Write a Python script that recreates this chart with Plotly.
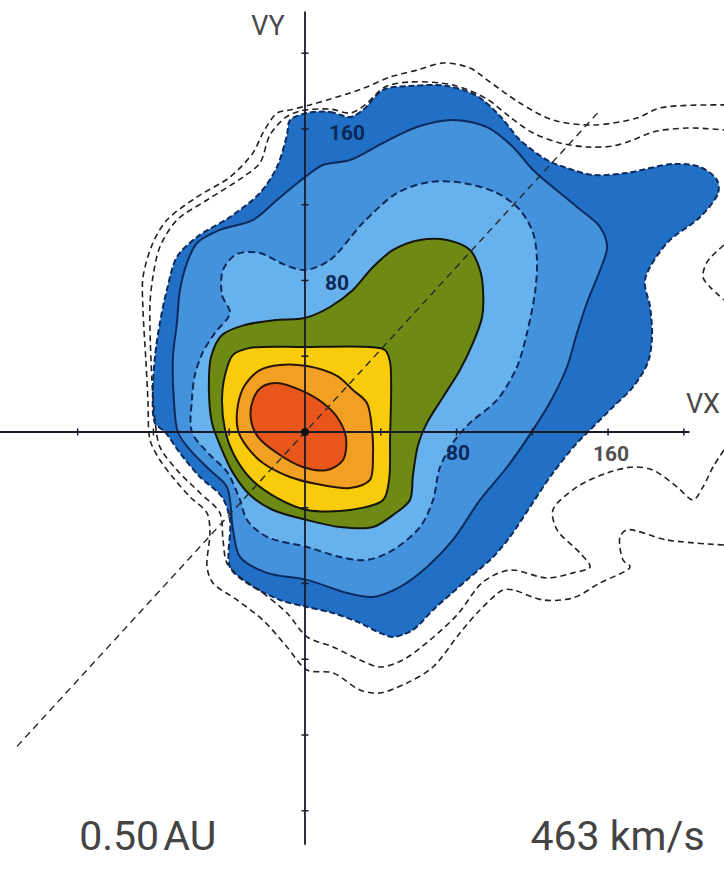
import plotly.graph_objects as go

# ---- velocity-space contour boundaries (km/s) ----
# outer dark-blue level
lev1_vx = [1.1, 13.2, 23.8, 30.6, 41.2, 55.4, 75.0, 90.8, 103.0, 113.5, 127.8, 138.3, 152.1, 170.0, 194.3, 208.6,
           217.5, 218.1, 208.6, 191.1, 179.5, 182.2, 183.2, 181.1, 173.2, 162.6, 150.5, 143.6, 130.9, 118.8, 108.2,
           99.3, 85.5, 67.6, 57.0, 46.5, 39.6, 29.0, 14.8, 1.1, -13.2, -30.6, -39.6, -39.6, -43.8, -55.4, -66.0,
           -73.9, -79.2, -80.3, -79.2, -76.6, -72.9, -67.6, -57.0, -39.6, -23.8, -14.8, -9.5, -7.9]
lev1_vy = [168.4, 169.0, 166.3, 170.0, 180.6, 182.7, 182.7, 177.4, 166.8, 154.2, 143.6, 139.4, 135.7, 136.8, 141.5,
           139.9, 133.1, 126.2, 113.5, 99.8, 80.3, 66.0, 50.2, 37.0, 23.8, 13.2, 1.1, -5.8, -21.6, -39.6, -55.4,
           -66.0, -78.1, -94.0, -104.5, -108.2, -106.1, -100.8, -95.6, -92.4, -88.7, -79.7, -71.3, -46.5, -34.3,
           -23.8, -11.1, 0.0, 4.8, 22.2, 39.6, 57.6, 75.0, 92.4, 103.0, 113.5, 126.2, 139.9, 156.8, 164.7]
# medium-blue level
lev2_vx = [0.0, 9.5, 23.8, 41.2, 59.1, 78.1, 96.1, 109.8, 120.4, 143.6, 155.8, 159.5, 155.8, 149.4, 143.6, 138.3,
           130.9, 120.4, 106.7, 92.4, 78.1, 64.4, 50.2, 35.9, 22.2, 1.1, -20.1, -34.3, -38.0, -41.2, -50.2, -60.7,
           -67.1, -69.2, -69.7, -67.6, -66.0, -62.3, -57.0, -44.9, -27.5, -14.8, -5.3]
lev2_vy = [134.6, 141.0, 143.6, 152.6, 161.0, 164.7, 161.0, 150.5, 138.3, 118.8, 108.2, 97.7, 85.5, 69.7, 52.3,
           34.3, 18.5, 1.1, -18.5, -35.9, -57.0, -71.3, -81.8, -87.1, -85.0, -78.1, -74.4, -66.0, -51.7, -29.0,
           -20.1, -9.5, 0.0, 16.9, 39.6, 57.6, 75.0, 89.2, 99.8, 106.7, 111.9, 122.5, 130.4]
# light-blue level
lev3_vx = [0.0, 13.2, 30.6, 48.6, 66.0, 83.4, 101.4, 113.5, 120.4, 122.5, 121.4, 117.2, 111.9, 101.4, 87.1, 79.2,
           71.3, 67.6, 60.7, 46.5, 32.7, 18.5, 1.1, -20.1, -30.6, -34.3, -41.2, -50.2, -59.7, -59.7, -58.1, -53.9,
           -47.5, -39.6, -43.8, -43.3, -35.9, -23.8, -11.6]
lev3_vy = [85.5, 90.8, 110.4, 126.2, 132.0, 131.5, 126.2, 117.2, 105.1, 90.8, 73.4, 52.3, 34.3, 16.9, 4.8, -4.2,
           -18.5, -35.9, -50.2, -62.3, -67.6, -66.0, -60.7, -55.4, -46.5, -35.9, -21.1, -12.1, 0.0, 16.9, 30.1,
           42.2, 52.3, 62.8, 72.3, 85.5, 94.0, 94.5, 88.7]
# green level
lev4_vx = [0.0, 13.2, 25.3, 35.9, 46.5, 60.7, 75.0, 87.1, 92.4, 94.0, 93.5, 88.7, 81.8, 72.9, 64.4, 59.7, 57.0,
           55.4, 46.5, 35.9, 18.5, 1.1, -16.9, -29.0, -38.0, -44.9, -49.1, -50.7, -49.6, -43.8, -31.7, -15.8]
lev4_vy = [60.2, 66.0, 75.0, 87.1, 96.1, 101.4, 101.4, 96.1, 85.5, 75.0, 60.7, 47.0, 32.7, 18.5, 4.8, -6.9, -22.7,
           -35.9, -43.8, -50.2, -50.2, -46.5, -41.2, -33.3, -21.6, -6.9, 4.8, 22.2, 39.6, 51.2, 56.5, 59.1]
# yellow level
lev5_vx = [0.0, 34.3, 42.2, 44.9, 44.9, 44.4, 41.2, 23.8, 1.1, -14.8, -29.0, -38.0, -42.2, -43.8, -42.2, -38.0, -29.0]
lev5_vy = [44.9, 44.9, 43.3, 37.0, -4.2, -25.3, -35.9, -41.2, -41.2, -34.8, -24.3, -11.1, 1.1, 16.9, 30.1, 40.7, 44.4]
# orange level
lev6_vx = [1.1, 16.9, 25.3, 32.7, 35.4, 35.9, 34.3, 23.8, 6.3, -7.9, -22.2, -30.6, -35.4, -35.4, -31.7, -23.8, -13.2]
lev6_vy = [34.8, 29.6, 22.2, 15.3, 1.1, -12.1, -25.3, -29.6, -27.5, -23.8, -16.4, -7.9, 1.1, 14.3, 24.8, 32.7, 35.4]
# red core
lev7_vx = [-14.8, -2.6, 9.5, 16.9, 21.6, 20.1, 11.6, -1.1, -14.8, -24.8, -28.5, -27.5, -22.7]
lev7_vy = [25.9, 22.2, 15.3, 7.9, -2.6, -14.8, -20.1, -18.5, -11.1, -2.6, 6.3, 16.9, 23.8]

# outer unfilled (dashed) contours
out1_vx = [221.2, 215.4, 210.1, 204.9, 196.4, 183.7, 173.2, 159.5, 143.6, 130.9, 133.1, 145.2, 150.5, 141.5, 127.8,
           108.2, 94.0, 80.3, 66.0, 51.7, 39.6, 29.0, 14.8, 1.1, -9.5, -22.2, -34.3, -41.2, -43.3, -44.9, -55.4,
           -67.6, -76.6, -79.2, -80.8, -81.8, -81.8, -80.3, -76.6, -67.6, -51.7, -32.7, -23.8, -18.5, -10.6, -2.6,
           13.2, 23.8, 31.7, 42.2, 55.4, 78.1, 96.1, 108.2, 120.4, 134.6, 148.9, 162.6, 173.2, 183.7, 201.7, 221.2]
out1_vy = [-9.5, -18.5, -29.0, -35.9, -29.0, -20.1, -18.5, -21.6, -29.0, -41.2, -51.7, -63.9, -71.3, -74.4, -77.1,
           -72.9, -79.2, -96.6, -109.8, -120.4, -124.1, -120.4, -113.5, -108.2, -95.6, -85.0, -76.6, -69.2, -57.0,
           -42.8, -32.2, -20.1, -7.9, 6.3, 27.5, 53.9, 68.1, 81.8, 97.7, 111.9, 122.5, 134.6, 142.0, 156.8, 165.8,
           169.5, 170.5, 168.4, 172.7, 182.2, 184.8, 183.2, 175.8, 166.3, 157.9, 152.6, 150.5, 151.0, 154.2, 158.4,
           160.5, 159.5]
out2_vx = [221.2, 191.1, 170.0, 166.3, 167.9, 171.6, 155.8, 141.5, 125.7, 109.8, 104.5, 92.4, 81.8, 67.6, 53.9,
           39.6, 29.0, 14.8, 1.1, -9.5, -22.2, -35.9, -48.6, -51.7, -50.2, -51.7, -60.7, -68.6, -76.6, -81.8, -82.9,
           -84.0, -85.5, -85.5, -80.3, -72.9, -57.0, -39.6, -27.5, -22.2, -14.8, -7.9, 2.6, 11.6, 23.8, 32.7, 44.9,
           59.1, 72.9, 87.1, 96.1, 113.5, 130.9, 152.1, 175.3, 187.4, 221.2]
out2_vy = [-59.7, -57.0, -51.7, -55.4, -67.6, -71.3, -79.7, -87.6, -88.7, -83.4, -83.4, -94.0, -106.1, -124.1,
           -132.5, -137.8, -136.2, -127.2, -125.7, -113.5, -99.3, -88.7, -79.7, -71.3, -53.3, -42.8, -34.3, -25.3,
           -14.8, -4.2, 16.9, 38.0, 64.4, 81.8, 99.8, 111.9, 124.1, 134.6, 147.3, 157.9, 168.4, 170.0, 172.7, 175.3,
           179.0, 182.2, 187.4, 191.1, 194.8, 192.2, 185.9, 173.7, 164.7, 162.1, 165.8, 171.1, 172.7]
out3_vx = [221.2, 212.3, 210.1, 213.8, 221.2]
out3_vy = [98.7, 89.8, 81.8, 76.6, 69.7]

# magnetic-field direction (dashed diagonal)
bfield_vx = [-152.0, 155.0]
bfield_vy = [-166.0, 169.0]

# axes, ticks and labels
vx_axis = [-161.0, 203.0]
vy_axis = [-218.0, 222.0]
vx_ticks = [-120, -80, -40, 40, 80, 120, 160, 200]
vy_ticks = [-200, -160, -120, -80, -40, 40, 80, 120, 160, 200]
tick_labels = ["160", "80", "80", "160"]
tick_label_vx = [22.2, 16.9, 80.8, 161.6]
tick_label_vy = [156.8, 77.6, -12.1, -12.7]
tick_label_colors = ["#0c2858", "#0c2858", "#0c2858", "#505050"]
info_texts = ["0.50\u200aAU", "463 km/s"]
info_vx = [-83.0, 165.0]
info_vy = [-215.5, -215.5]

fills = ["#2170c6", "#4592dc", "#67b1ec", "#6d8b14", "#f8cc0a", "#f2a024", "#e8561c"]
edges = ["#0d2a5c", "#0d2a5c", "#0d2a5c", "#15150f", "#15150f", "#2a1508", "#2a1508"]
dashes = ["6px,3px", "solid", "7px,4px", "solid", "solid", "solid", "solid"]

fig = go.Figure()
levels = [(lev1_vx, lev1_vy), (lev2_vx, lev2_vy), (lev3_vx, lev3_vy), (lev4_vx, lev4_vy),
          (lev5_vx, lev5_vy), (lev6_vx, lev6_vy), (lev7_vx, lev7_vy)]
for (xs, ys), fc, ec, ds in zip(levels, fills, edges, dashes):
    fig.add_trace(go.Scatter(x=xs + xs[:1], y=ys + ys[:1], mode="lines", fill="toself", fillcolor=fc,
                             line=dict(color=ec, width=2, dash=ds, shape="spline", smoothing=0.9),
                             hoverinfo="skip", showlegend=False))

for xs, ys in [(out1_vx, out1_vy), (out2_vx, out2_vy), (out3_vx, out3_vy)]:
    fig.add_trace(go.Scatter(x=xs, y=ys, mode="lines",
                             line=dict(color="#222222", width=1.6, dash="6px,4px", shape="spline", smoothing=0.9),
                             hoverinfo="skip", showlegend=False))

fig.add_trace(go.Scatter(x=bfield_vx, y=bfield_vy, mode="lines",
                         line=dict(color="#2a2a2a", width=1.4, dash="7px,5px"),
                         hoverinfo="skip", showlegend=False))

# axes lines
fig.add_trace(go.Scatter(x=vx_axis, y=[0, 0], mode="lines", line=dict(color="#1a1a2a", width=1.8),
                         hoverinfo="skip", showlegend=False))
fig.add_trace(go.Scatter(x=[0, 0], y=vy_axis, mode="lines", line=dict(color="#1a1a2a", width=1.8),
                         hoverinfo="skip", showlegend=False))
fig.add_trace(go.Scatter(x=vx_ticks, y=[0] * len(vx_ticks), mode="markers",
                         marker=dict(symbol="line-ns", size=5, line=dict(color="#1a1a2a", width=1.5)),
                         hoverinfo="skip", showlegend=False))
fig.add_trace(go.Scatter(x=[0] * len(vy_ticks), y=vy_ticks, mode="markers",
                         marker=dict(symbol="line-ew", size=5, line=dict(color="#1a1a2a", width=1.5)),
                         hoverinfo="skip", showlegend=False))
fig.add_trace(go.Scatter(x=[0], y=[0], mode="markers", marker=dict(color="#111111", size=8),
                         hoverinfo="skip", showlegend=False))

fig.add_trace(go.Scatter(x=tick_label_vx, y=tick_label_vy, mode="text", text=tick_labels,
                         textfont=dict(family="Roboto", size=21, color=tick_label_colors, weight="bold"),
                         hoverinfo="skip", showlegend=False))
fig.add_trace(go.Scatter(x=[-19.5, 210.1], y=[213.3, 13.5], mode="text", text=["VY", "VX"],
                         textfont=dict(family="Roboto", size=27, color="#4a4a4a"),
                         hoverinfo="skip", showlegend=False))
fig.add_trace(go.Scatter(x=info_vx, y=info_vy, mode="text", text=info_texts,
                         textfont=dict(family="Roboto", size=41, color="#444444"),
                         hoverinfo="skip", showlegend=False))

fig.update_layout(
    width=724, height=881,
    margin=dict(l=0, r=0, t=0, b=0),
    paper_bgcolor="white", plot_bgcolor="white",
    xaxis=dict(range=[-161.0, 221.2], visible=False, fixedrange=True),
    yaxis=dict(range=[-237.1, 228.1], visible=False, fixedrange=True),
    showlegend=False,
)

fig.write_html("out.html", config={"displayModeBar": False},
               post_script="document.body.style.margin='0px';document.documentElement.style.overflow='hidden';")
